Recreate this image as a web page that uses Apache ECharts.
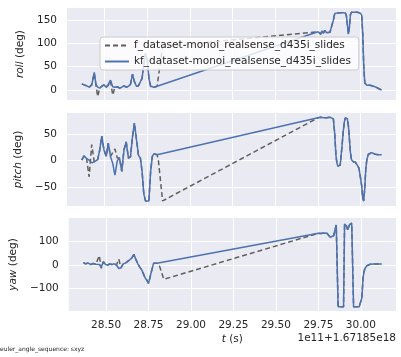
<!DOCTYPE html>
<html><head><meta charset="utf-8">
<script src="https://cdn.jsdelivr.net/npm/echarts@6/dist/echarts.min.js"></script>
<style>html,body{margin:0;padding:0;background:#fff}#c{width:401px;height:357px}</style>
</head><body><div id="c"></div>
<script>
// ---- data ----
const seriesNames = ['f_dataset-monoi_realsense_d435i_slides', 'kf_dataset-monoi_realsense_d435i_slides'];
const xTicks = [28.5, 28.75, 29.0, 29.25, 29.5, 29.75, 30.0];
const rollTicks = [0, 50, 100, 150];
const pitchTicks = [-50, 0, 50];
const yawTicks = [-100, 0, 100];

const tLeft = [28.367, 28.380, 28.395, 28.410, 28.425, 28.440, 28.450, 28.460, 28.472, 28.484,
  28.497, 28.510, 28.522, 28.535, 28.548, 28.561, 28.575, 28.588, 28.601, 28.614,
  28.627, 28.640, 28.652, 28.664, 28.675, 28.687, 28.699, 28.710, 28.720, 28.730,
  28.740, 28.750, 28.760, 28.770, 28.780, 28.790, 28.800, 28.808];
const tGapF = [28.815, 28.840];
const tRight = [29.750, 29.758, 29.766, 29.774, 29.782, 29.790, 29.800, 29.810, 29.820, 29.830,
  29.840, 29.848, 29.855, 29.861, 29.866, 29.872, 29.880, 29.890, 29.898, 29.904,
  29.910, 29.916, 29.922, 29.928, 29.934, 29.940, 29.946, 29.952, 29.957, 29.962,
  29.970, 29.980, 29.990, 29.998, 30.006, 30.012, 30.018, 30.024, 30.030, 30.036,
  30.045, 30.055, 30.065, 30.075, 30.085, 30.095, 30.105, 30.115, 30.123];

const rollKfLeft = [13, 11, 9, 6, 10, 38, 12, 6, 4, 8, 11, 6, 12, 21, 7, 6, 7, 4, 6, 9,
  6, 8, 12, 34, 18, 8, 9, 11, 25, 55, 78, 65, 25, 8, 5, 6, 7, 8];
const rollFLeft = [13, 11, 9, 6, 12, 36, 10, -14, 4, 8, 11, 6, 10, 20, -11, 6, 7, 4, 6, 9,
  6, 8, 12, 34, 18, 8, 9, 11, 25, 55, 78, 65, 25, 8, 5, 6, 7, 8, 8, 93];
const rollRight = [125, 128, 120, 127, 122, 128, 123, 121, 124, 120,
  150, 164, 166, 165, 167, 165, 166, 165, 166, 164,
  165, 160, 140, 120, 135, 162, 167, 167, 166, 167,
  166, 167, 166, 165, 160, 120, 50, 15, 12, 10,
  9, 10, 7, 8, 6, 5, 3, 1, 0];

const pitchKfLeft = [1, 9, 4, 1, -4, -2, 0, 2, 20, 46, 20, 8, 33, 8, -5, -27, 0, 5, -20, 20,
  35, 5, 7, 45, 70, 40, 10, 5, -20, -62, -75, -77, -75, -20, 8, 13, 13, 11];
const pitchFLeft = [1, 9, 4, -30, 30, -2, 0, 2, 20, 46, 20, 8, 33, 8, 15, 22, 5, 5, -20, 20,
  35, 5, 7, 45, 70, 40, 10, 5, -20, -62, -75, -77, -75, -20, 8, 13, 13, 11, 2, -75];
const pitchRight = [80, 78, 81, 79, 80, 78, 80, 79, 81, 80,
  78, 50, 10, -5, -10, -12, -8, 25, 55, 72,
  80, 81, 78, 65, 40, 15, 2, 0, -2, -3,
  -3, -6, -14, -30, -48, -70, -75, -50, -15, 2,
  12, 14, 15, 16, 12, 13, 11, 12, 11];

const yawKfLeft = [10, 5, 8, 2, 6, 3, 0, 2, -10, 14, 2, 0, 4, 2, 5, 0, -15, -12, 5, 8,
  15, 22, 30, 45, 25, 5, -10, -21, -38, -55, -65, -78, -85, -20, 7, 6, 7, 7];
const yawFLeft = [10, 5, 8, 2, 6, 3, 0, 40, -14, 14, 2, 0, 4, 2, 5, 0, 25, -12, 5, 8,
  15, 22, 30, 45, 25, 5, -10, -21, -38, -55, -65, -78, -85, -20, 7, 6, 7, 7, -5, -61];
const yawRight = [135, 138, 134, 140, 136, 138, 135, 130, 118, 112,
  125, 150, 170, 178, -178, -178, -178, -178, -178, 175,
  178, 165, 150, 160, 172, 178, 178, 176, -178, -178,
  -178, -178, -178, -175, -140, -60, -30, -15, -8, -3,
  1, 3, 4, 4, 5, 4, 4, 4, 4];

// ---- build ----
const tF = tLeft.concat(tGapF, tRight);
const tKf = tLeft.concat(tRight);
const fVals = [rollFLeft.concat(rollRight), pitchFLeft.concat(pitchRight), yawFLeft.concat(yawRight)];
const kfVals = [rollKfLeft.concat(rollRight), pitchKfLeft.concat(pitchRight), yawKfLeft.concat(yawRight)];
const zip = (xs, ys) => xs.map((x, i) => [x, ys[i]]);

const FONT = 'DejaVu Sans';
const TXT = '#262626';
const FS = 10.5;
const fmt = v => String(v).replace('-', '\u2212');

const gridPos = [
  {left: 67, top: 8, width: 329, height: 92},
  {left: 67, top: 113, width: 329, height: 93},
  {left: 67, top: 218, width: 329, height: 93}
];
const yCfg = [
  {min: -21.5, max: 176, ticks: rollTicks, name: 'roll'},
  {min: -84.5, max: 89, ticks: pitchTicks, name: 'pitch'},
  {min: -196, max: 200, ticks: yawTicks, name: 'yaw'}
];
const richName = {
  fontSize: FS, color: TXT, fontFamily: FONT,
  rich: {i: {fontStyle: 'italic', fontSize: FS, color: TXT, fontFamily: FONT}, n: {fontSize: FS, color: TXT, fontFamily: FONT}}
};

const option = {
  animation: false,
  backgroundColor: '#ffffff',
  grid: gridPos.map(g => Object.assign({show: true, backgroundColor: '#eaeaf2', borderWidth: 0}, g)),
  xAxis: gridPos.map((g, i) => ({
    type: 'value', gridIndex: i, min: 28.2804, max: 30.2067,
    axisLine: {show: false},
    axisTick: {show: false, customValues: xTicks},
    axisLabel: {show: i === 2, customValues: xTicks, formatter: v => v.toFixed(2), color: TXT, fontSize: FS, fontFamily: FONT, margin: 9},
    splitLine: {show: true, lineStyle: {color: '#ffffff', width: 1}},
    name: i === 2 ? '{i|t}{n| (s)}' : '',
    nameLocation: 'middle', nameGap: 23, nameTextStyle: richName
  })),
  yAxis: yCfg.map((c, i) => ({
    type: 'value', gridIndex: i, min: c.min, max: c.max,
    axisLine: {show: false},
    axisTick: {show: false, customValues: c.ticks},
    axisLabel: {customValues: c.ticks, formatter: fmt, color: TXT, fontSize: FS, fontFamily: FONT, margin: 10},
    splitLine: {show: true, lineStyle: {color: '#ffffff', width: 1}},
    name: '{i|' + c.name + '}{n| (deg)}',
    nameLocation: 'middle', nameRotate: 90, nameGap: 36, nameTextStyle: richName
  })),
  legend: {
    left: 100, top: 37, orient: 'vertical', itemWidth: 24, itemHeight: 12, itemGap: 5,
    padding: [3, 8, 3, 4], backgroundColor: 'rgba(255,255,255,0.8)', borderColor: '#cccccc', borderWidth: 1, borderRadius: 3,
    textStyle: {color: TXT, fontSize: FS, fontFamily: FONT},
    itemStyle: {opacity: 0},
    data: seriesNames
  },
  graphic: [
    {type: 'text', right: 5, top: 333, style: {text: '1e11+1.67185e18', fill: TXT, font: FS + 'px "DejaVu Sans"'}},
    {type: 'text', left: 0, top: 346, style: {text: 'euler_angle_sequence: sxyz', fill: TXT, font: '6px "DejaVu Sans"'}}
  ],
  series: []
};
for (let i = 0; i < 3; i++) {
  option.series.push({
    type: 'line', name: seriesNames[0], xAxisIndex: i, yAxisIndex: i,
    data: zip(tF, fVals[i]), showSymbol: false, symbol: 'none', z: 2,
    lineStyle: {color: '#5f5f5f', width: 1.5, type: [5, 3]}, itemStyle: {color: '#5f5f5f'}
  });
  option.series.push({
    type: 'line', name: seriesNames[1], xAxisIndex: i, yAxisIndex: i,
    data: zip(tKf, kfVals[i]), showSymbol: false, symbol: 'none', z: 3,
    lineStyle: {color: '#4c72b0', width: 1.5}, itemStyle: {color: '#4c72b0'}
  });
}
const chart = echarts.init(document.getElementById('c'));
chart.setOption(option);
</script>
</body></html>
